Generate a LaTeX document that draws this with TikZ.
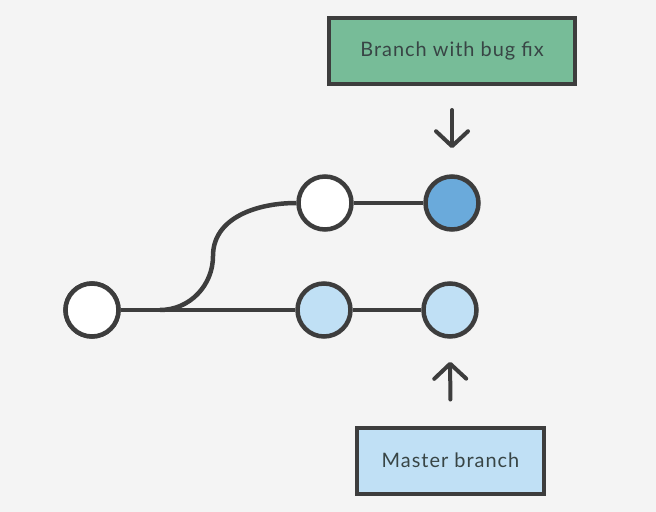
\documentclass[tikz,border=0pt]{standalone}
\usepackage{fontspec}
\setmainfont{Lato}[LetterSpace=5]
\usepackage{tikz}
\usetikzlibrary{arrows.meta, positioning, calc}
\definecolor{PaperGray}{HTML}{F4F4F4}
\definecolor{InkGray}{HTML}{3D3D3D}
\definecolor{TextGray}{HTML}{384545}
\definecolor{FixGreen}{HTML}{77BC98}
\definecolor{TipBlue}{HTML}{6AAADB}
\definecolor{PaleBlue}{HTML}{C0E0F5}

\begin{document}
\begin{tikzpicture}[
  x=1bp, y=-1bp,
  commit/.style={circle, draw=InkGray, line width=4.5bp, minimum size=53bp, fill=white},
  tag/.style={rectangle, draw=InkGray, line width=4bp, font=\fontsize{20}{22}\selectfont,
    text=TextGray, minimum height=66bp},
  edge/.style={draw=InkGray, line width=4.5bp},
  pointer/.style={-{Straight Barb[length=15bp, width=32bp, round]}, InkGray, line width=4bp, line cap=round}
]
\fill[PaperGray] (0,0) rectangle (656,512);

\node[commit] (base) at (92,310)  {};
\node[commit] (f1)   at (325,203) {};
\node[commit, fill=TipBlue]  (f2) at (452,203) {};
\node[commit, fill=PaleBlue] (m1) at (324,310) {};
\node[commit, fill=PaleBlue] (m2) at (450,310) {};

\node[tag, fill=FixGreen, minimum width=246bp] (bugfix) at (452,51)  {Branch with bug fix};
\node[tag, fill=PaleBlue, minimum width=187bp] (master) at (450.5,460.5) {Master branch};

% History
\coordinate (fork) at (160,310);
\coordinate (bend) at (213,256);
\draw[edge] (base) -- (m1) -- (m2);
\draw[edge] (fork) to[out=0, in=-90] (bend) to[out=90, in=180] (f1);
\draw[edge] (f1) -- (f2);
\node[commit] at (base) {};

% Pointers
\draw[pointer, shorten <=24bp, shorten >=26bp] (bugfix.south) -- (f2.north);
\draw[pointer, shorten <=26bp, shorten >=23bp] (master.north) -- (m2.south);

\end{tikzpicture}
\end{document}
